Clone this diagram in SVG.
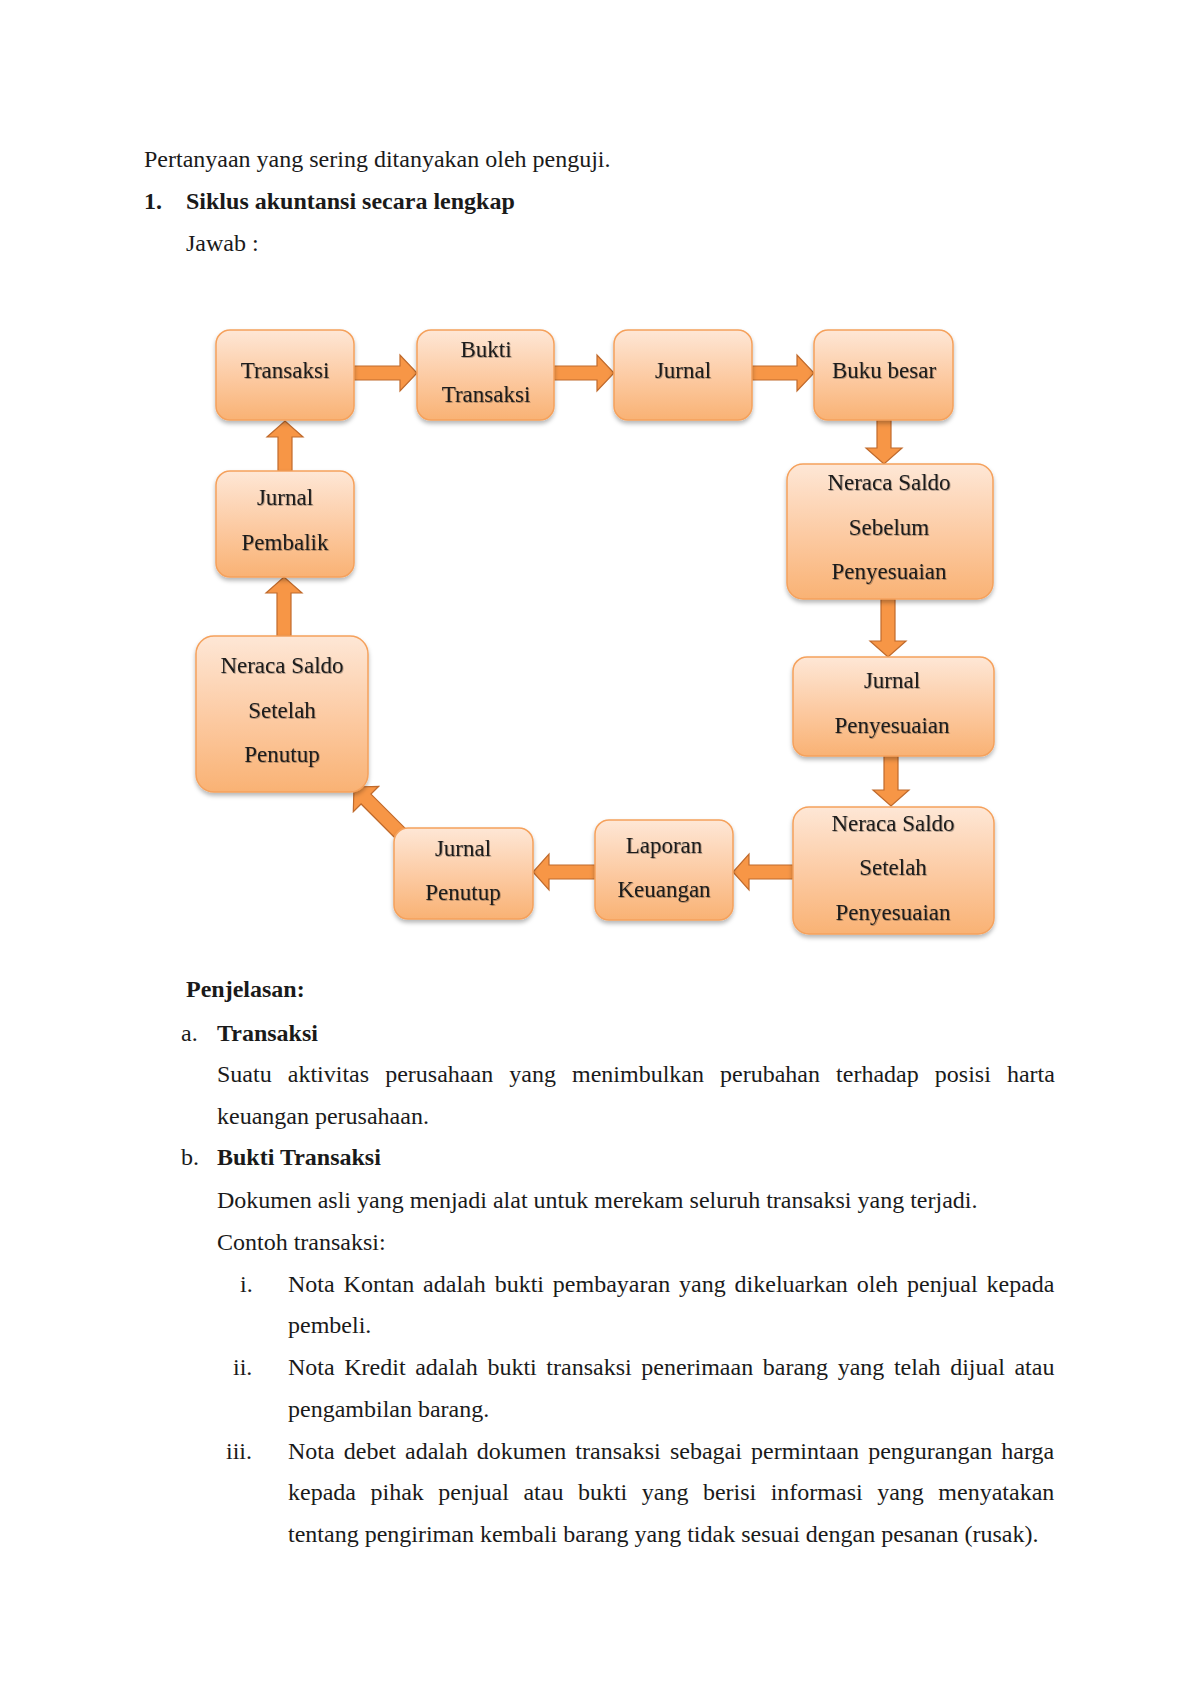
<svg xmlns="http://www.w3.org/2000/svg" width="1200" height="1698" viewBox="0 0 1200 1698">
  <defs>
    <linearGradient id="boxGrad" x1="0" y1="0" x2="0" y2="1">
      <stop offset="0" stop-color="#fee7d6"/>
      <stop offset="0.55" stop-color="#fcc9a0"/>
      <stop offset="1" stop-color="#f9b274"/>
    </linearGradient>
    <filter id="boxShadow" x="-10%" y="-10%" width="120%" height="130%">
      <feDropShadow dx="0" dy="3" stdDeviation="2" flood-color="#000" flood-opacity="0.28"/>
    </filter>
    <filter id="txtShadow" x="-5%" y="-20%" width="110%" height="140%">
      <feDropShadow dx="0.8" dy="0.8" stdDeviation="0.6" flood-color="#000" flood-opacity="0.35"/>
    </filter>
  </defs>
  <style>
    .body { font-family: "Liberation Serif", "Times New Roman", serif; font-size: 24px; fill: #1a1a1a; }
    .bold { font-weight: bold; }
    .box { fill: url(#boxGrad); stroke: #f5a15c; stroke-width: 1.5; filter: url(#boxShadow); }
    .lbl { font-family: "Liberation Serif", "Times New Roman", serif; font-size: 23px; fill: #1c1c1c; text-anchor: middle; filter: url(#txtShadow); }
    .arr { fill: #f79646; stroke: #c06a2c; stroke-width: 1.2; stroke-linejoin: miter; }
  </style>
  <rect width="1200" height="1698" fill="#ffffff"/>

  <!-- header text -->
  <text class="body" x="144" y="167">Pertanyaan yang sering ditanyakan oleh penguji.</text>
  <text class="body bold" x="144" y="209">1.</text>
  <text class="body bold" x="186" y="209">Siklus akuntansi secara lengkap</text>
  <text class="body" x="186" y="251">Jawab :</text>

  <!-- connectors -->
  <g id="connectors">
    <path class="arr" d="M354,366 H400 V355 L417,373 L400,391 V380 H354 Z"/>
    <path class="arr" d="M554,366 H597 V355 L614,373 L597,391 V380 H554 Z"/>
    <path class="arr" d="M752,366 H797 V355 L814,373 L797,391 V380 H752 Z"/>
    <path class="arr" d="M877,420 V448 H866 L884,464 L902,448 H891 V420 Z"/>
    <path class="arr" d="M881,599 V641 H870 L888,657 L906,641 H895 V599 Z"/>
    <path class="arr" d="M884,756 V790 H873 L891,806 L909,790 H898 V756 Z"/>
    <path class="arr" d="M793,865 H749 V854 L733,872 L749,890 V879 H793 Z"/>
    <path class="arr" d="M595,865 H549 V854 L533,872 L549,890 V879 H595 Z"/>
    <path class="arr" transform="translate(354,787) rotate(225)" d="M0,0 L-17,-18 V-7 H-68 V7 H-17 V18 Z"/>
    <path class="arr" d="M277,636 V593 H266 L284,577 L302,593 H291 V636 Z"/>
    <path class="arr" d="M278,471 V437 H267 L285,421 L303,437 H292 V471 Z"/>
  </g>

  <!-- nodes -->
  <g id="node-transaksi">
    <rect class="box" x="216" y="330" width="138" height="90" rx="14"/>
    <text class="lbl" x="285" y="378">Transaksi</text>
  </g>
  <g id="node-bukti-transaksi">
    <rect class="box" x="417" y="330" width="137" height="90" rx="14"/>
    <text class="lbl" x="486" y="357">Bukti</text>
    <text class="lbl" x="486" y="402">Transaksi</text>
  </g>
  <g id="node-jurnal">
    <rect class="box" x="614" y="330" width="138" height="90" rx="14"/>
    <text class="lbl" x="683" y="378">Jurnal</text>
  </g>
  <g id="node-buku-besar">
    <rect class="box" x="814" y="330" width="139" height="90" rx="14"/>
    <text class="lbl" x="884" y="378">Buku besar</text>
  </g>
  <g id="node-neraca-sebelum">
    <rect class="box" x="787" y="464" width="206" height="135" rx="16"/>
    <text class="lbl" x="889" y="490">Neraca Saldo</text>
    <text class="lbl" x="889" y="535">Sebelum</text>
    <text class="lbl" x="889" y="579">Penyesuaian</text>
  </g>
  <g id="node-jurnal-penyesuaian">
    <rect class="box" x="793" y="657" width="201" height="99" rx="14"/>
    <text class="lbl" x="892" y="688">Jurnal</text>
    <text class="lbl" x="892" y="733">Penyesuaian</text>
  </g>
  <g id="node-neraca-setelah-penyesuaian">
    <rect class="box" x="793" y="807" width="201" height="127" rx="16"/>
    <text class="lbl" x="893" y="831">Neraca Saldo</text>
    <text class="lbl" x="893" y="875">Setelah</text>
    <text class="lbl" x="893" y="920">Penyesuaian</text>
  </g>
  <g id="node-laporan-keuangan">
    <rect class="box" x="595" y="820" width="138" height="100" rx="14"/>
    <text class="lbl" x="664" y="853">Laporan</text>
    <text class="lbl" x="664" y="897">Keuangan</text>
  </g>
  <g id="node-jurnal-penutup">
    <rect class="box" x="394" y="828" width="139" height="91" rx="14"/>
    <text class="lbl" x="463" y="856">Jurnal</text>
    <text class="lbl" x="463" y="900">Penutup</text>
  </g>
  <g id="node-neraca-setelah-penutup">
    <rect class="box" x="196" y="636" width="172" height="156" rx="18"/>
    <text class="lbl" x="282" y="673">Neraca Saldo</text>
    <text class="lbl" x="282" y="718">Setelah</text>
    <text class="lbl" x="282" y="762">Penutup</text>
  </g>
  <g id="node-jurnal-pembalik">
    <rect class="box" x="216" y="471" width="138" height="106" rx="14"/>
    <text class="lbl" x="285" y="505">Jurnal</text>
    <text class="lbl" x="285" y="550">Pembalik</text>
  </g>

  <!-- explanation -->
  <text class="body bold" x="186" y="997">Penjelasan:</text>
  <text class="body" x="181" y="1041">a.</text>
  <text class="body bold" x="217" y="1041">Transaksi</text>
  <text class="body" x="217" y="1082" word-spacing="10.1">Suatu aktivitas perusahaan yang menimbulkan perubahan terhadap posisi harta</text>
  <text class="body" x="217" y="1124">keuangan perusahaan.</text>
  <text class="body" x="181" y="1165">b.</text>
  <text class="body bold" x="217" y="1165">Bukti Transaksi</text>
  <text class="body" x="217" y="1208">Dokumen asli yang menjadi alat untuk merekam seluruh transaksi yang terjadi.</text>
  <text class="body" x="217" y="1250">Contoh transaksi:</text>
  <text class="body" x="240" y="1292">i.</text>
  <text class="body" x="288" y="1292" word-spacing="2.9">Nota Kontan adalah bukti pembayaran yang dikeluarkan oleh penjual kepada</text>
  <text class="body" x="288" y="1333">pembeli.</text>
  <text class="body" x="233" y="1375">ii.</text>
  <text class="body" x="288" y="1375" word-spacing="3.6">Nota Kredit adalah bukti transaksi penerimaan barang yang telah dijual atau</text>
  <text class="body" x="288" y="1417">pengambilan barang.</text>
  <text class="body" x="226" y="1459">iii.</text>
  <text class="body" x="288" y="1459" word-spacing="3.2">Nota debet adalah dokumen transaksi sebagai permintaan pengurangan harga</text>
  <text class="body" x="288" y="1500" word-spacing="8.5">kepada pihak penjual atau bukti yang berisi informasi yang menyatakan</text>
  <text class="body" x="288" y="1542">tentang pengiriman kembali barang yang tidak sesuai dengan pesanan (rusak).</text>
</svg>
